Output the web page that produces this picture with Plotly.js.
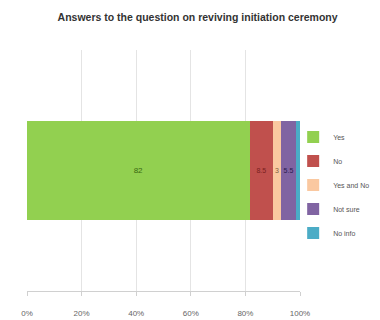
<!DOCTYPE html>
<html>
<head>
<meta charset="utf-8">
<script src="https://cdn.plot.ly/plotly-3.0.1.min.js"></script>
<style>html,body{margin:0;padding:0;background:#fff;}#chart{width:380px;height:320px;}</style>
</head>
<body>
<div id="chart"></div>
<script>
const categories = ['Answers'];
const seriesNames = ['Yes', 'No', 'Yes and No', 'Not sure', 'No info'];
const yesValues = [82];
const noValues = [8.5];
const yesAndNoValues = [3];
const notSureValues = [5.5];
const noInfoValues = [1.5];
const tickValues = [0, 20, 40, 60, 80, 100];
const tickLabels = ['0%', '20%', '40%', '60%', '80%', '100%'];

const seriesValues = [yesValues, noValues, yesAndNoValues, notSureValues, noInfoValues];
const colors = ['#92D050', '#C0504D', '#FAC8A0', '#8064A2', '#4BACC6'];
const textColors = ['#3a6a10', '#7a2020', '#806040', '#2a1a50', '#205060'];
const showLabel = [true, true, true, true, false];

// 100% stacked: normalise each category by its total
const totals = categories.map((_, c) => seriesValues.reduce((s, arr) => s + arr[c], 0));

const traces = seriesNames.map((name, i) => ({
  type: 'bar',
  orientation: 'h',
  name: name,
  y: categories,
  x: seriesValues[i].map((v, c) => v / totals[c] * 100),
  text: seriesValues[i].map(v => showLabel[i] ? String(v) : ''),
  textposition: 'inside',
  insidetextanchor: 'middle',
  textangle: 0,
  constraintext: 'none',
  textfont: {size: i === 0 ? 8 : 7, color: textColors[i], family: 'Liberation Sans, Arial'},
  marker: {color: colors[i], line: {width: 0}},
  width: 0.41,
  legendgroup: 'g' + i,
  hoverinfo: 'none'
}));

const layout = {
  width: 380,
  height: 320,
  margin: {l: 27, r: 80, t: 50, b: 29, autoexpand: false},
  paper_bgcolor: '#fff',
  plot_bgcolor: '#fff',
  barmode: 'stack',
  showlegend: true,
  title: {
    text: 'Answers to the question on reviving initiation ceremony',
    font: {family: 'Liberation Sans, Arial', size: 10.5, color: '#333', weight: 'bold'},
    x: 0.52, xanchor: 'center', y: 0.947, yanchor: 'middle'
  },
  xaxis: {
    range: [0, 100],
    tickvals: tickValues,
    ticktext: tickLabels,
    showgrid: true,
    gridcolor: '#e4e4e4',
    gridwidth: 1,
    zeroline: false,
    showline: true,
    linecolor: '#d0d0d0',
    ticks: 'outside',
    ticklen: 4,
    tickcolor: '#d0d0d0',
    ticklabelstandoff: 10,
    tickfont: {size: 8, color: '#666', family: 'Liberation Sans, Arial'},
    fixedrange: true
  },
  yaxis: {
    showticklabels: false,
    showgrid: false,
    zeroline: false,
    showline: false,
    range: [-0.5, 0.5],
    fixedrange: true
  },
  legend: {
    x: 0.975, xanchor: 'left',
    y: 0.44, yanchor: 'middle',
    traceorder: 'grouped',
    tracegroupgap: 5,
    itemwidth: 30,
    font: {size: 7, color: '#555', family: 'Liberation Sans, Arial'},
    bgcolor: 'rgba(0,0,0,0)'
  }
};

Plotly.newPlot('chart', traces, layout, {displayModeBar: false, staticPlot: true});
</script>
</body>
</html>
